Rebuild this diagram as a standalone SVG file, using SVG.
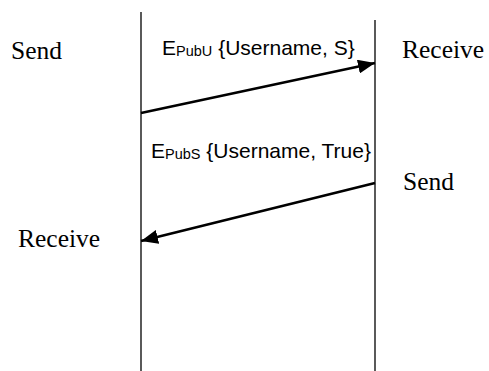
<svg xmlns="http://www.w3.org/2000/svg" width="489" height="371" viewBox="0 0 489 371">
  <style>
    .life { stroke: #000; stroke-width: 1.3; fill: none; }
    .msg { stroke: #000; stroke-width: 2.6; fill: none; }
    .role { font-family: "Liberation Serif", "Times New Roman", serif; font-size: 25.5px; fill: #000; }
    .lbl { font-family: "Liberation Sans", Arial, sans-serif; font-size: 21px; fill: #000; }
    .sub { font-size: 14.5px; }
  </style>
  <defs>
    <marker id="head" markerUnits="userSpaceOnUse" markerWidth="18" markerHeight="14" refX="17" refY="7" orient="auto">
      <path d="M0,0 L17,7 L0,14 Z" fill="#000"/>
    </marker>
  </defs>

  <!-- lifelines -->
  <g id="lifeline-left">
    <line class="life" x1="141" y1="12" x2="141" y2="371"/>
    <text class="role" x="11" y="59">Send</text>
    <text class="role" x="18" y="247">Receive</text>
  </g>
  <g id="lifeline-right">
    <line class="life" x1="375" y1="20" x2="375" y2="371"/>
    <text class="role" x="402" y="58">Receive</text>
    <text class="role" x="403" y="190">Send</text>
  </g>

  <!-- messages -->
  <g id="connectors">
    <line class="msg" x1="141" y1="113" x2="375" y2="63" marker-end="url(#head)"/>
    <line class="msg" x1="375" y1="183" x2="141" y2="241" marker-end="url(#head)"/>
  </g>

  <g id="label-request">
    <text class="lbl" x="162" y="55">E<tspan class="sub" dy="1">PubU</tspan><tspan dy="-1"> {Username, S}</tspan></text>
  </g>
  <g id="label-reply">
    <text class="lbl" x="151" y="158">E<tspan class="sub" dy="1">PubS</tspan><tspan dy="-1"> {Username, True}</tspan></text>
  </g>
</svg>
